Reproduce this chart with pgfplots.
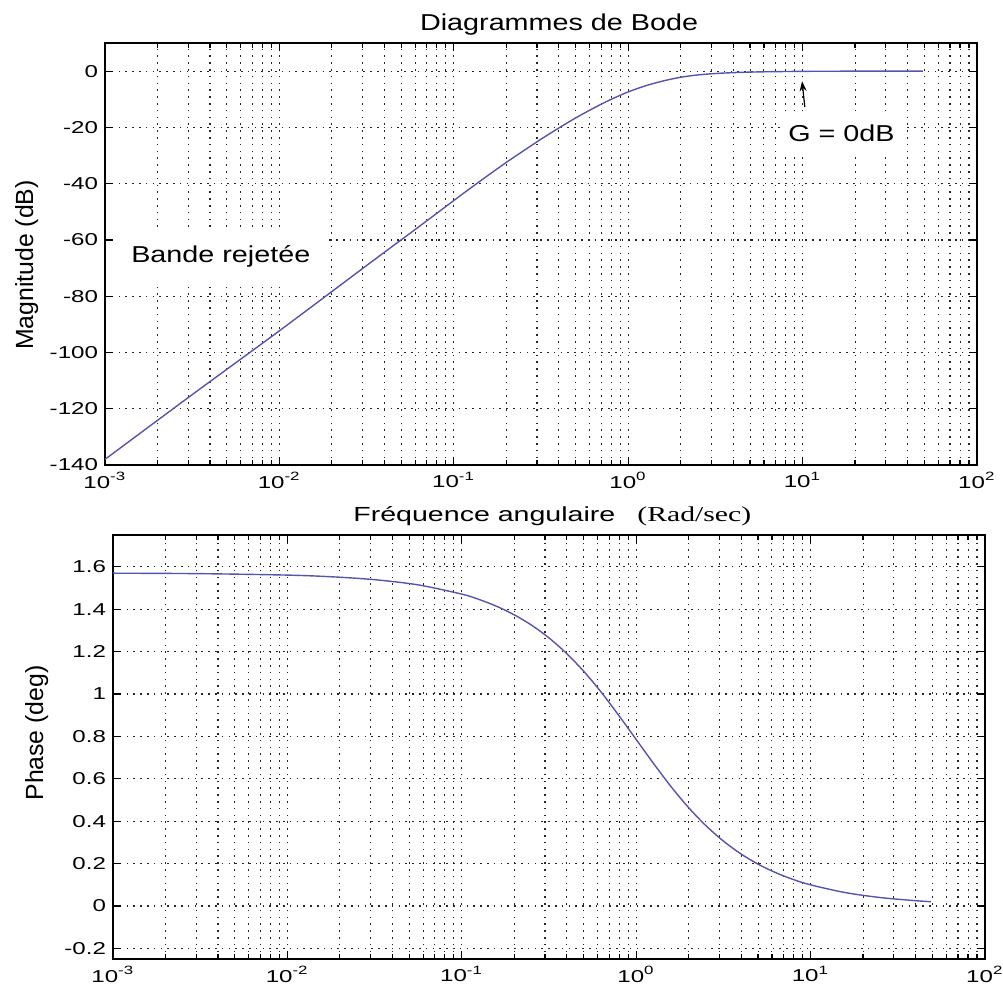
\documentclass[border=0pt]{standalone}
\usepackage{fontspec}
\setmainfont{Liberation Sans}
\newfontfamily\widefont{Liberation Sans}[FakeStretch=1.4]
\newfontfamily\titlefont{Liberation Sans}[FakeStretch=1.25]
\newfontfamily\serifwide{Liberation Serif}[FakeStretch=1.4]
\usepackage{graphicx}
\newcommand\tlab[1]{\scalebox{1.4}[1]{\fontsize{8.6}{9}\selectfont #1}}
\usepackage{pgfplots}
\pgfplotsset{compat=1.18}
\usetikzlibrary{arrows.meta}
\definecolor{curve}{RGB}{85,85,170}

\pgfplotsset{bodeax/.style={
  scale only axis,
  width=436pt,
  xmin=1e-3, xmax=1e2,
  xtick={1e-3,1e-2,1e-1,1,10,100},
  xticklabels={\tlab{10\textsuperscript{-3}},\tlab{10\textsuperscript{-2}},\tlab{10\textsuperscript{-1}},\tlab{10\textsuperscript{0}},\tlab{10\textsuperscript{1}},\tlab{10\textsuperscript{2}}},
  yticklabel={\tlab{\pgfmathprintnumber{\tick}}},
  grid=both,
  major grid style={black!85, line width=0.6pt, dash pattern=on 0.8pt off 2.6pt},
  minor grid style={black!85, line width=0.55pt, dash pattern=on 0.8pt off 2.6pt},
  axis line style={black, line width=0.8pt},
  tick style={black, line width=0.6pt},
  major tick length=4pt, minor tick length=2.5pt,
  tick align=inside, tick pos=both,
  /pgf/number format/assume math mode=true,
}}

\begin{document}
\begin{tikzpicture}
\path[use as bounding box] (0,0) rectangle (501.5pt,495pt);

% magnitude
\begin{semilogxaxis}[bodeax,
  at={(52.5pt,262.5pt)}, anchor=south west, height=211pt,
  ymin=-140, ymax=10,
  ytick={-140,-120,-100,-80,-60,-40,-20,0},
]
\addplot[curve, line width=0.7pt, smooth] coordinates {
(0.001,-138) (0.003162,-115) (0.01,-92.3) (0.03162,-69.1) (0.0631,-55.3)
(0.1,-46) (0.1259,-41.4) (0.1585,-36.9) (0.1995,-32.5) (0.2512,-28.3)
(0.3162,-24.2) (0.3981,-20.3) (0.5012,-16.6) (0.631,-13.2) (0.7943,-10.1)
(1,-7.4) (1.259,-5.2) (1.585,-3.5) (1.995,-2.2) (2.512,-1.35)
(3.162,-0.85) (3.981,-0.55) (5.012,-0.35) (6.31,-0.22) (10,-0.08)
(15.85,-0.03) (49,0)
};
\node[fill=white, anchor=base west, inner xsep=8pt, inner ysep=7pt,
  font=\titlefont\fontsize{11.5}{12}\selectfont] at (axis cs:0.00114,-68) {Bande rejetée};
\node[fill=white, anchor=base west, inner xsep=4pt, inner ysep=6pt,
  font=\titlefont\fontsize{11.5}{12}\selectfont] at (axis cs:7.41,-24.9) {G = 0dB};
\draw[black, line width=0.6pt, -{Stealth[length=5pt,width=3.5pt]}] (axis cs:10.3,-12.8) -- (axis cs:9.93,-3.6);
\end{semilogxaxis}

% phase
\begin{semilogxaxis}[bodeax,
  at={(56.5pt,15.5pt)}, anchor=south west, height=212pt,
  ymin=-0.25, ymax=1.75,
  ytick={-0.2,0,0.2,0.4,0.6,0.8,1,1.2,1.4,1.6},
]
\addplot[curve, line width=0.7pt, smooth] coordinates {
(0.001,1.5698) (0.003162,1.5676) (0.01,1.5608) (0.01778,1.5530) (0.03162,1.5392)
(0.05623,1.5146) (0.1,1.4711) (0.1259,1.4456) (0.1585,1.4136) (0.1995,1.3739)
(0.2512,1.3247) (0.3162,1.2645) (0.3981,1.1920) (0.5012,1.1062) (0.631,1.0079)
(0.7943,0.8992) (1,0.7854) (1.259,0.6716) (1.585,0.5629) (1.995,0.4646)
(2.512,0.3788) (3.162,0.3063) (3.981,0.2461) (5.012,0.1969) (6.31,0.1572)
(7.943,0.1252) (10,0.0997) (15.85,0.0630) (25.12,0.0398) (39.81,0.0251)
(49,0.0204)
};
\end{semilogxaxis}

% titles and labels
\node[anchor=base west, font=\titlefont\fontsize{11.5}{12}\selectfont] at (206.5pt,479.5pt) {Diagrammes de Bode};
\node[anchor=base west, inner sep=0pt, font=\widefont\fontsize{10.2}{11}\selectfont] at (176.5pt,234pt) {Fréquence angulaire};
\node[anchor=base west, inner sep=0pt, font=\serifwide\fontsize{10.6}{11}\selectfont] at (318.5pt,234pt) {(Rad/sec)};
\node[rotate=90, anchor=base, inner sep=0pt, font=\fontsize{12.4}{13}\selectfont] at (16.5pt,362.5pt) {Magnitude (dB)};
\node[rotate=90, anchor=base, inner sep=0pt, font=\fontsize{12.4}{13}\selectfont] at (21.5pt,128.5pt) {Phase (deg)};
\end{tikzpicture}
\end{document}
